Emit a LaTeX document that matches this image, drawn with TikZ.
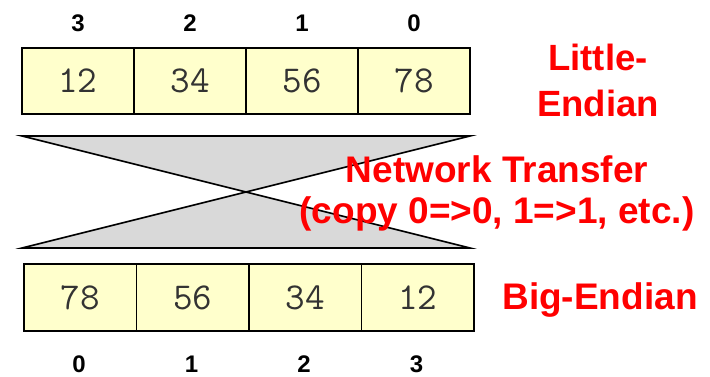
\documentclass[tikz,border=0pt]{standalone}
\usepackage{fontspec}
\setmainfont{Liberation Sans}
\definecolor{cellyellow}{RGB}{255,255,204}
\definecolor{wiregray}{RGB}{217,217,217}
\tikzset{
  cell/.style={draw, line width=1.6pt, fill=cellyellow, minimum width=112pt,
    minimum height=66pt, inner sep=0pt, font=\ttfamily\fontsize{38}{38}\selectfont, text=black!80},
  idx/.style={inner sep=0pt, font=\bfseries\fontsize{24}{24}\selectfont},
  note/.style={text=red, align=center, font=\bfseries\fontsize{37}{44}\selectfont}
}
\begin{document}
\begin{tikzpicture}[x=1pt,y=-1pt]
  \useasboundingbox (0,0) rectangle (710,377);

  % little-endian word, addresses 3..0 from left to right
  \foreach \i/\v/\a in {0/12/3,1/34/2,2/56/1,3/78/0} {
    \node (le\i) [cell] at (78+112*\i,81) {\v};
    \node (lea\i)[idx] at (78+112*\i,23) {\a};
  }

  % transfer: byte k goes to byte k
  \coordinate (tl) at (22,136);
  \coordinate (tr) at (470,136);
  \coordinate (bl) at (22,248);
  \coordinate (br) at (470,248);
  \draw[line width=1.6pt, fill=wiregray] (tl) -- (tr) -- (bl) -- (br) -- cycle;

  % big-endian word, addresses 0..3 from left to right
  \foreach \i/\v/\a in {0/78/0,1/56/1,2/34/2,3/12/3} {
    \node (be\i) [cell, minimum width=112.5pt, minimum height=67pt] at (80.25+112.5*\i,297.5) {\v};
    \node (bea\i)[idx] at (79+112.5*\i,364) {\a};
  }

  \node (little)  [note, font=\bfseries\fontsize{36.5}{46}\selectfont] at (598,80) {Little-\\Endian};
  \node (network) [note, font=\bfseries\fontsize{37}{41}\selectfont] at (497,193) {Network Transfer\\(copy 0=>0, 1=>1, etc.)};
  \node (big)     [note] at (600,300) {Big-Endian};
\end{tikzpicture}
\end{document}
